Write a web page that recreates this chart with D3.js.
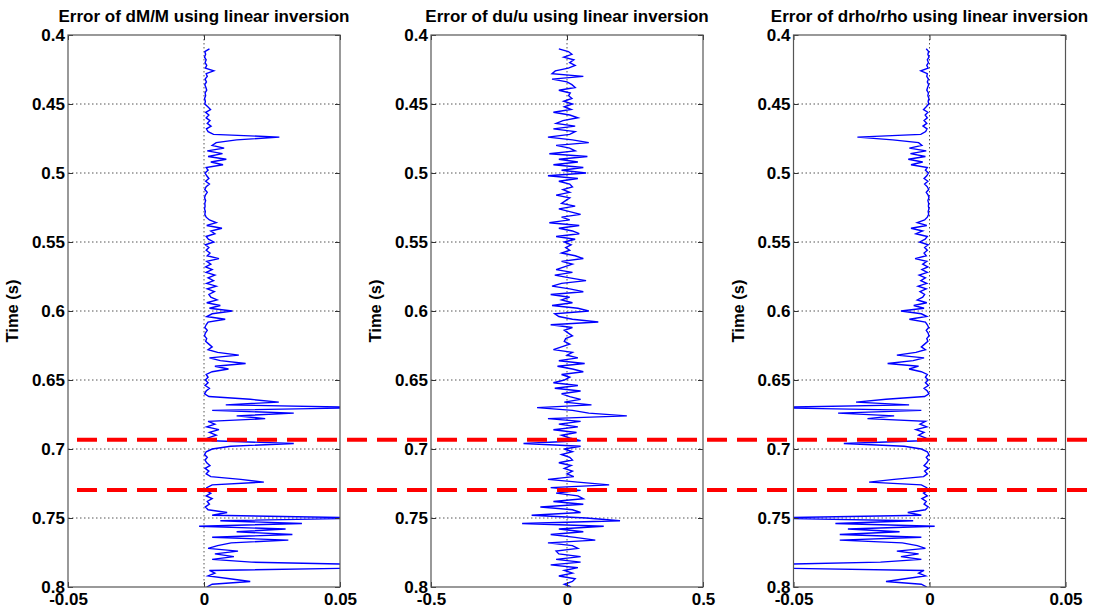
<!DOCTYPE html>
<html>
<head>
<meta charset="utf-8">
<script src="https://cdn.jsdelivr.net/npm/d3@7"></script>
<style>
  body { margin: 0; background: #fff; }
  svg text { font-family: "Liberation Sans", Arial, sans-serif; font-weight: bold; fill: #000; }
</style>
</head>
<body>
<svg id="chart" width="1099" height="613"></svg>
<script>
// Trace sampling: one value every 2 ms starting at 0.41 s
const t0 = 0.41, dt = 0.002;

// Error of dM/M
const dMM = [
  0.0020, 0.0003, 0.0006, 0.0002, 0.0008, 0.0004, 0.0010, 0.0005, 0.0036, 0.0008,
  0.0012, 0.0004, 0.0009, 0.0003, 0.0007, 0.0010, 0.0004, 0.0006, 0.0002, 0.0005,
  0.0003, 0.0014, 0.0024, 0.0006, 0.0018, 0.0008, 0.0022, 0.0012, 0.0026, 0.0009,
  0.0015, 0.0035, 0.0277, 0.0120, 0.0045, 0.0030, 0.0074, 0.0012, 0.0068, 0.0015,
  0.0082, 0.0025, 0.0070, 0.0008, 0.0015, 0.0004, 0.0010, 0.0018, 0.0006, 0.0020,
  0.0008, 0.0003, 0.0012, 0.0005, 0.0002, 0.0006, 0.0003, 0.0004, 0.0002, 0.0005,
  0.0003, 0.0008, 0.0020, 0.0045, 0.0010, 0.0066, 0.0025, 0.0040, 0.0008, 0.0016,
  0.0036, 0.0005, 0.0018, 0.0008, 0.0022, 0.0012, 0.0055, 0.0010, 0.0025, 0.0006,
  0.0030, 0.0008, 0.0040, 0.0015, 0.0035, 0.0010, 0.0045, 0.0012, 0.0038, 0.0018,
  0.0025, 0.0048, 0.0010, 0.0060, 0.0020, 0.0104, 0.0030, 0.0010, 0.0078, 0.0015,
  0.0008, 0.0003, 0.0012, 0.0005, 0.0002, 0.0010, 0.0006, 0.0018, 0.0030, 0.0015,
  0.0050, 0.0128, 0.0020, 0.0060, 0.0153, 0.0040, 0.0090, 0.0030, 0.0008, 0.0015,
  0.0005, 0.0015, 0.0004, 0.0020, 0.0008, 0.0002, 0.0018, 0.0170, 0.0275, 0.0080,
  0.0620, 0.0030, 0.0330, 0.0120, 0.0225, 0.0015, 0.0040, 0.0010, 0.0055, 0.0020,
  0.0045, 0.0015, 0.0030, 0.0330, 0.0098, 0.0030, 0.0008, 0.0002, 0.0012, 0.0004,
  0.0010, 0.0022, 0.0004, 0.0018, 0.0008, 0.0025, 0.0135, 0.0220, 0.0030, 0.0010,
  0.0006, 0.0025, 0.0008, 0.0030, 0.0012, 0.0020, 0.0005, 0.0015, 0.0085, 0.0030,
  0.0620, 0.0060, 0.0360, -0.0018, 0.0300, 0.0120, 0.0325, 0.0030, 0.0310, 0.0100,
  0.0050, 0.0015, 0.0125, 0.0040, 0.0110, 0.0030, 0.0175, 0.0650, 0.0650, 0.0020,
  0.0040, 0.0015, 0.0095, 0.0170, 0.0030, 0.0010
];

// Error of du/u
const duu = [
  -0.030, 0.005, 0.018, -0.012, 0.025, 0.010, 0.030, 0.005, -0.043, -0.055,
  0.060, -0.055, 0.000, 0.018, 0.030, -0.030, 0.012, 0.006, 0.018, -0.012,
  0.020, -0.010, 0.015, -0.050, 0.010, 0.040, -0.015, -0.040, 0.030, -0.050,
  0.030, 0.010, -0.070, 0.020, 0.080, -0.040, 0.010, 0.030, -0.065, 0.075,
  -0.030, 0.040, -0.050, 0.060, -0.020, 0.070, -0.070, 0.040, -0.030, 0.010,
  0.020, -0.015, 0.010, -0.040, 0.010, -0.005, -0.020, 0.030, -0.030, 0.010,
  0.050, -0.020, 0.010, -0.065, 0.045, -0.030, 0.020, 0.045, -0.040, 0.030,
  -0.010, 0.015, -0.005, 0.010, -0.020, 0.030, 0.060, -0.020, 0.020, -0.010,
  -0.040, 0.020, -0.045, 0.010, 0.070, -0.020, -0.055, 0.010, 0.060, -0.060,
  0.010, -0.020, 0.020, -0.055, 0.040, 0.080, -0.045, -0.030, 0.020, 0.115,
  -0.060, 0.020, -0.010, 0.005, 0.020, -0.005, -0.010, 0.010, -0.020, -0.050,
  0.020, 0.000, 0.040, -0.030, 0.065, -0.035, 0.020, 0.060, -0.020, 0.010,
  -0.010, -0.050, 0.040, -0.045, 0.050, -0.020, 0.010, 0.050, -0.010, 0.090,
  -0.110, 0.020, 0.080, 0.220, -0.070, 0.050, -0.030, 0.040, -0.050, 0.035,
  -0.020, 0.010, 0.050, -0.160, 0.050, -0.010, 0.020, -0.020, 0.010, 0.020,
  -0.030, 0.015, -0.010, 0.020, 0.000, 0.025, -0.070, 0.040, 0.155, -0.060,
  0.050, -0.040, 0.040, 0.060, -0.050, 0.060, -0.098, 0.020, 0.050, -0.130,
  0.070, 0.195, -0.165, 0.135, -0.030, 0.060, -0.060, 0.030, 0.104, -0.070,
  0.020, 0.040, -0.040, -0.030, 0.050, -0.040, 0.050, -0.060, 0.040, -0.010,
  0.020, -0.030, 0.030, 0.020, -0.010, 0.015
];

// Error of drho/rho
const drho = [
  -0.0012, -0.0003, -0.0006, -0.0002, -0.0008, -0.0004, -0.0010, -0.0005, -0.0032, -0.0008,
  -0.0010, -0.0004, -0.0008, -0.0003, -0.0007, -0.0010, -0.0004, -0.0006, -0.0002, -0.0005,
  -0.0003, -0.0012, -0.0022, -0.0006, -0.0016, -0.0008, -0.0020, -0.0010, -0.0024, -0.0009,
  -0.0014, -0.0032, -0.0265, -0.0135, -0.0040, -0.0028, -0.0074, -0.0012, -0.0070, -0.0015,
  -0.0078, -0.0025, -0.0068, -0.0008, -0.0015, -0.0004, -0.0010, -0.0020, -0.0006, -0.0018,
  -0.0008, -0.0003, -0.0012, -0.0005, -0.0002, -0.0006, -0.0003, -0.0004, -0.0002, -0.0005,
  -0.0003, -0.0008, -0.0018, -0.0045, -0.0010, -0.0068, -0.0025, -0.0050, -0.0008, -0.0016,
  -0.0036, -0.0005, -0.0018, -0.0008, -0.0020, -0.0012, -0.0053, -0.0010, -0.0025, -0.0006,
  -0.0028, -0.0008, -0.0038, -0.0015, -0.0032, -0.0010, -0.0042, -0.0012, -0.0035, -0.0018,
  -0.0025, -0.0045, -0.0010, -0.0058, -0.0020, -0.0105, -0.0030, -0.0010, -0.0074, -0.0015,
  -0.0008, -0.0003, -0.0012, -0.0005, -0.0002, -0.0010, -0.0006, -0.0018, -0.0030, -0.0015,
  -0.0050, -0.0120, -0.0020, -0.0060, -0.0154, -0.0040, -0.0075, -0.0030, -0.0008, -0.0015,
  -0.0005, -0.0015, -0.0004, -0.0020, -0.0008, -0.0002, -0.0018, -0.0160, -0.0270, -0.0075,
  -0.0620, -0.0030, -0.0336, -0.0130, -0.0228, -0.0015, -0.0035, -0.0010, -0.0050, -0.0020,
  -0.0040, -0.0015, -0.0030, -0.0315, -0.0093, -0.0030, -0.0008, -0.0002, -0.0012, -0.0004,
  -0.0010, -0.0020, -0.0004, -0.0018, -0.0008, -0.0022, -0.0130, -0.0222, -0.0030, -0.0010,
  -0.0006, -0.0022, -0.0008, -0.0028, -0.0012, -0.0020, -0.0005, -0.0015, -0.0080, -0.0030,
  -0.0620, -0.0060, -0.0346, 0.0019, -0.0300, -0.0110, -0.0330, -0.0030, -0.0330, -0.0100,
  -0.0045, -0.0015, -0.0120, -0.0040, -0.0105, -0.0030, -0.0180, -0.0650, -0.0650, -0.0020,
  -0.0040, -0.0015, -0.0090, -0.0160, -0.0030, -0.0010
];

const titles = [
  "Error of dM/M using linear inversion",
  "Error of du/u using linear inversion",
  "Error of drho/rho using linear inversion"
];
const xDomains = [[-0.05, 0.05], [-0.5, 0.5], [-0.05, 0.05]];
const xTicks = [[-0.05, 0, 0.05], [-0.5, 0, 0.5], [-0.05, 0, 0.05]];
const yTicks = [0.4, 0.45, 0.5, 0.55, 0.6, 0.65, 0.7, 0.75, 0.8];
const markerTimes = [0.6933, 0.7297];

const series = [dMM, duu, drho];

// layout
const panelLefts = [68, 431, 793.5];
const pw = 272, plotTop = 35, plotBottom = 587;

const svg = d3.select("#chart");

const y = d3.scaleLinear().domain([0.4, 0.8]).range([plotTop, plotBottom]);

series.forEach((vals, i) => {
  const x = d3.scaleLinear().domain(xDomains[i]).range([panelLefts[i], panelLefts[i] + pw]);
  const g = svg.append("g");

  // clip to axes box
  g.append("clipPath").attr("id", "clip" + i)
    .append("rect")
    .attr("x", panelLefts[i]).attr("y", plotTop)
    .attr("width", pw).attr("height", plotBottom - plotTop);

  // dotted grid
  g.append("g").selectAll("line")
    .data(yTicks.slice(1, -1))
    .enter().append("line")
    .attr("x1", panelLefts[i]).attr("x2", panelLefts[i] + pw)
    .attr("y1", d => y(d)).attr("y2", d => y(d))
    .attr("stroke", "#555").attr("stroke-width", 1)
    .attr("stroke-dasharray", "1.5,2.5");
  g.append("g").selectAll("line")
    .data(xTicks[i].slice(1, -1))
    .enter().append("line")
    .attr("x1", d => x(d)).attr("x2", d => x(d))
    .attr("y1", plotTop).attr("y2", plotBottom)
    .attr("stroke", "#555").attr("stroke-width", 1)
    .attr("stroke-dasharray", "1.5,2.5");

  // trace
  const line = d3.line()
    .x(d => x(d))
    .y((d, k) => y(t0 + k * dt));
  g.append("path")
    .datum(vals)
    .attr("clip-path", `url(#clip${i})`)
    .attr("fill", "none")
    .attr("stroke", "#0000ff")
    .attr("stroke-width", 1.4)
    .attr("d", line);

  // axes
  const fmt = d => String(d);
  const left = g.append("g")
    .attr("transform", `translate(${panelLefts[i]},0)`)
    .call(d3.axisLeft(y).tickValues(yTicks).tickFormat(fmt)
      .tickSizeInner(-5).tickSizeOuter(0).tickPadding(3));
  const right = g.append("g")
    .attr("transform", `translate(${panelLefts[i] + pw},0)`)
    .call(d3.axisRight(y).tickValues(yTicks).tickFormat("")
      .tickSizeInner(-5).tickSizeOuter(0));
  const topAx = g.append("g")
    .attr("transform", `translate(0,${plotTop})`)
    .call(d3.axisTop(x).tickValues(xTicks[i]).tickFormat("")
      .tickSizeInner(-5).tickSizeOuter(0));
  const bot = g.append("g")
    .attr("transform", `translate(0,${plotBottom})`)
    .call(d3.axisBottom(x).tickValues(xTicks[i]).tickFormat(fmt)
      .tickSizeInner(-5).tickSizeOuter(0).tickPadding(6));

  [left, right, topAx, bot].forEach(a => {
    a.select(".domain").remove();
    a.selectAll(".tick line").attr("stroke", "#333");
    a.selectAll("text").attr("font-size", "17px")
      .style("font-family", '"Liberation Sans", Arial, sans-serif')
      .style("font-weight", "bold").attr("fill", "#000");
  });

  // box
  g.append("rect")
    .attr("x", panelLefts[i]).attr("y", plotTop)
    .attr("width", pw).attr("height", plotBottom - plotTop)
    .attr("fill", "none").attr("stroke", "#555").attr("stroke-width", 1.2);

  // title
  g.append("text")
    .attr("x", panelLefts[i] + pw / 2).attr("y", 22)
    .attr("text-anchor", "middle")
    .attr("font-size", "17px")
    .text(titles[i]);

  // y label
  g.append("text")
    .attr("transform", `translate(${panelLefts[i] - 50},${(plotTop + plotBottom) / 2}) rotate(-90)`)
    .attr("text-anchor", "middle")
    .attr("font-size", "16.5px")
    .text("Time (s)");
});

// red dashed marker lines across all panels
svg.append("g").selectAll("line")
  .data(markerTimes)
  .enter().append("line")
  .attr("x1", 77).attr("x2", 1092)
  .attr("y1", d => y(d)).attr("y2", d => y(d))
  .attr("stroke", "#ff0000")
  .attr("stroke-width", 4)
  .attr("stroke-dasharray", "20,10");
</script>
</body>
</html>
